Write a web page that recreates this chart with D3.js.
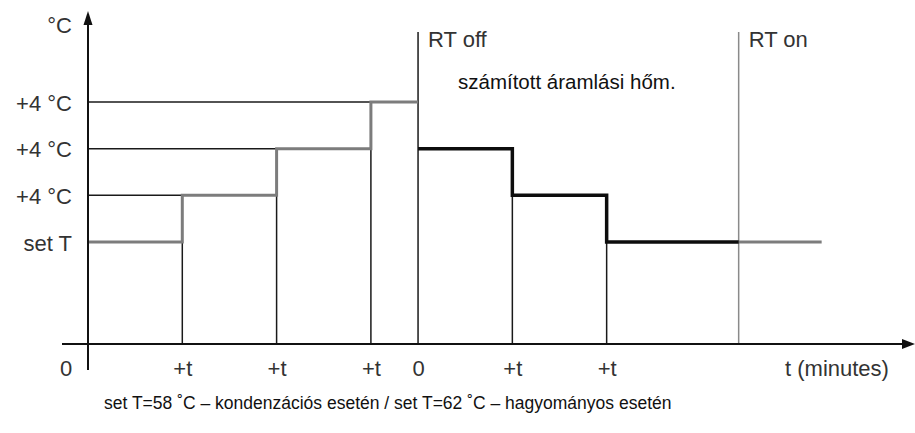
<!DOCTYPE html>
<html>
<head>
<meta charset="utf-8">
<script src="https://cdn.jsdelivr.net/npm/d3@7"></script>
<style>
  body { margin: 0; background: #fff; }
  svg { display: block; font-family: "Liberation Sans", Arial, sans-serif; }
</style>
</head>
<body>
<div id="chart"></div>
<script>
// time points in units of "t", levels in steps of +4 °C above set T
var riseTimes = [0, 1, 2, 3, 3.5];
var riseLevels = [0, 1, 2, 3, 3];
var fallTimes = [3.5, 4.5, 5.5, 6.9];
var fallLevels = [2, 1, 0, 0];
var tailTimes = [6.9, 7.78];
var tailLevels = [0, 0];
var rtOffTime = 3.5;
var rtOnTime = 6.9;

var yTickLevels = [0, 1, 2, 3];
var yTickLabels = ["set T", "+4 °C", "+4 °C", "+4 °C"];
var xTickTimes = [0, 1, 2, 3, 3.5, 4.5, 5.5];
var xTickLabels = ["0", "+t", "+t", "+t", "0", "+t", "+t"];

(function () {
    var width = 915, height = 433;
    var svg = d3.select("#chart").append("svg")
        .attr("width", width)
        .attr("height", height);

    var x = d3.scaleLinear().domain([0, 1]).range([88, 182.3]);
    var y = d3.scaleLinear().domain([0, 3]).range([242, 102]);
    var axisY = 344;
    var topY = 32;
    var labelColor = "#333";

    function pts(ts, ls) {
        return ts.map(function (t, i) { return [t, ls[i]]; });
    }
    var step = d3.line()
        .curve(d3.curveStepAfter)
        .x(function (d) { return x(d[0]); })
        .y(function (d) { return y(d[1]); });

    // thin guide lines
    var guides = svg.append("g").attr("stroke", "#1a1a1a").attr("stroke-width", 1.5);
    // horizontal guides from the y axis to each rise
    for (var i = 1; i < 4; i++) {
        guides.append("line")
            .attr("x1", x(0)).attr("x2", x(riseTimes[i]))
            .attr("y1", y(riseLevels[i])).attr("y2", y(riseLevels[i]));
    }
    // vertical guides from the time axis up to the step
    for (var i = 1; i < 4; i++) {
        guides.append("line")
            .attr("x1", x(riseTimes[i])).attr("x2", x(riseTimes[i]))
            .attr("y1", axisY).attr("y2", y(riseLevels[i - 1]));
    }
    for (var i = 1; i < 3; i++) {
        guides.append("line")
            .attr("x1", x(fallTimes[i])).attr("x2", x(fallTimes[i]))
            .attr("y1", axisY).attr("y2", y(fallLevels[i]));
    }
    // RT off / RT on markers
    guides.append("line")
        .attr("x1", x(rtOffTime)).attr("x2", x(rtOffTime))
        .attr("y1", topY).attr("y2", axisY);
    svg.append("line")
        .attr("stroke", "#8a8a8a").attr("stroke-width", 1.5)
        .attr("x1", x(rtOnTime)).attr("x2", x(rtOnTime))
        .attr("y1", topY).attr("y2", axisY);

    // stepped curves
    svg.append("path")
        .attr("d", step(pts(riseTimes, riseLevels)))
        .attr("fill", "none").attr("stroke", "#7c7c7c").attr("stroke-width", 3);
    svg.append("path")
        .attr("d", step(pts(tailTimes, tailLevels)))
        .attr("fill", "none").attr("stroke", "#7c7c7c").attr("stroke-width", 3);
    svg.append("path")
        .attr("d", step(pts(fallTimes, fallLevels)))
        .attr("fill", "none").attr("stroke", "#0d0d0d").attr("stroke-width", 3.5);

    // axes lines with arrows
    svg.append("line")
        .attr("x1", x(0)).attr("x2", x(0))
        .attr("y1", 370).attr("y2", 22)
        .attr("stroke", "#111").attr("stroke-width", 2);
    svg.append("path")
        .attr("d", "M" + x(0) + ",11 L" + (x(0) - 4.5) + ",25 L" + (x(0) + 4.5) + ",25 Z")
        .attr("fill", "#111");
    svg.append("line")
        .attr("x1", 62).attr("x2", 905)
        .attr("y1", axisY).attr("y2", axisY)
        .attr("stroke", "#111").attr("stroke-width", 2);
    svg.append("path")
        .attr("d", "M915," + axisY + " L902," + (axisY - 5) + " L902," + (axisY + 5) + " Z")
        .attr("fill", "#111");

    // tick labels through d3 axes
    var gx = svg.append("g")
        .attr("transform", "translate(0," + axisY + ")")
        .call(d3.axisBottom(x).tickValues(xTickTimes)
            .tickFormat(function (d, i) { return xTickLabels[i]; })
            .tickSize(0));
    gx.select(".domain").remove();
    gx.selectAll("text")
        .attr("y", 32).attr("dy", 0)
        .style("font-size", "22px").attr("fill", labelColor)
        .style("font-family", "Liberation Sans, Arial, sans-serif");
    // origin "0" sits left of the y axis
    gx.selectAll(".tick").filter(function (d, i) { return i === 0; })
        .attr("transform", "translate(66,0)");

    var gy = svg.append("g")
        .attr("transform", "translate(" + x(0) + ",0)")
        .call(d3.axisLeft(y).tickValues(yTickLevels)
            .tickFormat(function (d, i) { return yTickLabels[i]; })
            .tickSize(0));
    gy.select(".domain").remove();
    gy.selectAll("text")
        .attr("x", -16).attr("dy", 0).attr("y", 8)
        .style("font-size", "22px").attr("fill", labelColor)
        .style("font-family", "Liberation Sans, Arial, sans-serif");

    function label(px, py, txt, size, anchor, color) {
        svg.append("text")
            .attr("x", px).attr("y", py)
            .attr("text-anchor", anchor)
            .attr("fill", color)
            .style("font-size", size + "px")
            .text(txt);
    }
    label(72, 33, "°C", 22, "end", labelColor);
    label(428, 47, "RT off", 22, "start", labelColor);
    label(x(rtOnTime) + 10, 47, "RT on", 22, "start", labelColor);
    label(458, 89, "számított áramlási hőm.", 20.5, "start", "#111");
    label(785, 376, "t (minutes)", 22, "start", labelColor);
    label(104, 409, "set T=58 ˚C – kondenzációs esetén / set T=62 ˚C – hagyományos esetén", 17.5, "start", "#111");
}());
</script>
</body>
</html>
